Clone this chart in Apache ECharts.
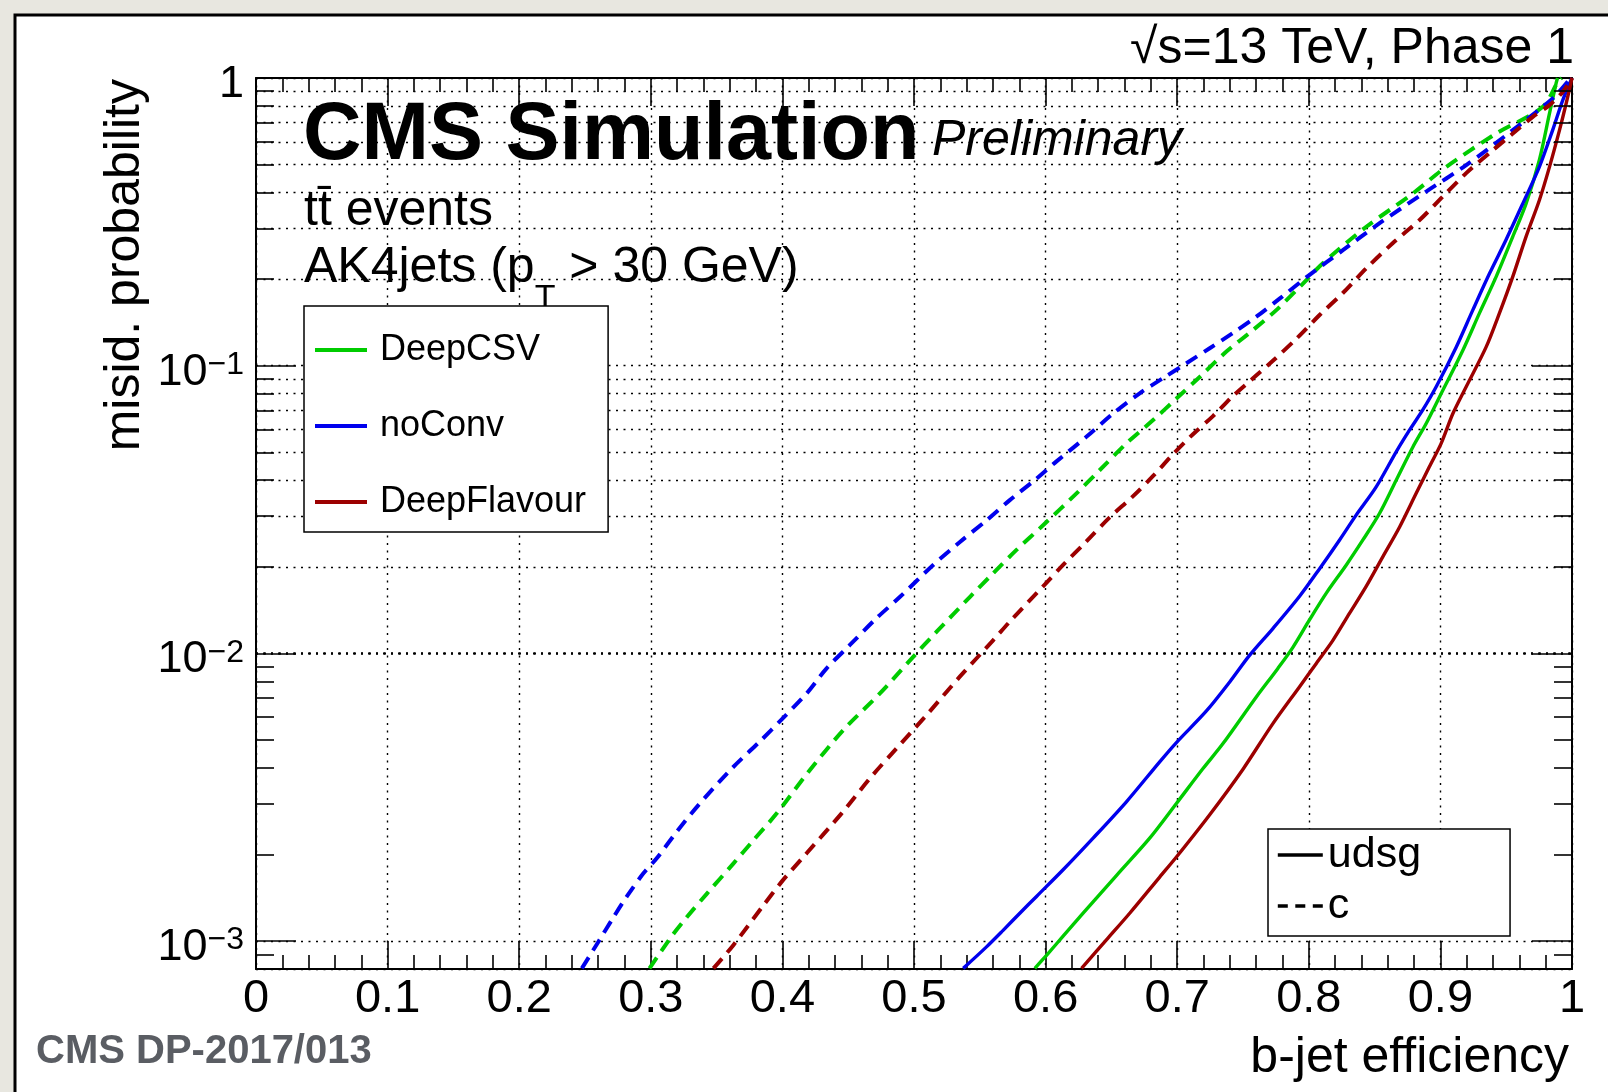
<!DOCTYPE html>
<html><head><meta charset="utf-8">
<script src="https://cdn.jsdelivr.net/npm/echarts@6.0.0/dist/echarts.min.js"></script>
<style>html,body{margin:0;padding:0;background:#e8e7e0}#c{width:1608px;height:1092px}</style>
</head><body><div id="c"></div>
<script>
// ---- data (b-jet efficiency, misid. probability) ----
const deepCsvUdsg = [[0.5918,0.000804],[0.6007,0.000893],[0.6133,0.00104],[0.6285,0.00125],[0.6538,0.00169],[0.6791,0.00228],[0.6994,0.00301],[0.7196,0.00398],[0.7348,0.00486],[0.7601,0.00706],[0.7765,0.00887],[0.7879,0.0105],[0.8006,0.0131],[0.8133,0.0162],[0.8285,0.0203],[0.8411,0.0248],[0.8538,0.0307],[0.8664,0.0400],[0.8791,0.0522],[0.8892,0.0630],[0.8994,0.0780],[0.9170,0.113],[0.9296,0.152],[0.9424,0.204],[0.9550,0.281],[0.9651,0.366],[0.9752,0.519],[0.9829,0.753],[0.9879,0.957],[0.989,1.0]];
const noConvUdsg = [[0.5374,0.000804],[0.5551,0.000955],[0.5677,0.00109],[0.5804,0.00125],[0.5931,0.00143],[0.6133,0.00177],[0.6361,0.00228],[0.6614,0.00305],[0.6867,0.00420],[0.6994,0.00490],[0.7222,0.00631],[0.7399,0.00796],[0.7551,0.00986],[0.7727,0.0122],[0.7930,0.0158],[0.8082,0.0197],[0.8234,0.0248],[0.8361,0.0303],[0.8512,0.0379],[0.8664,0.0502],[0.8765,0.0597],[0.8866,0.0702],[0.8968,0.0845],[0.9120,0.116],[0.9246,0.156],[0.9373,0.209],[0.9499,0.274],[0.9626,0.366],[0.9752,0.491],[0.9853,0.659],[0.9930,0.838],[1.0,1.0]];
const deepFlavUdsg = [[0.6273,0.000804],[0.6462,0.00101],[0.6639,0.00125],[0.6867,0.00167],[0.6994,0.00196],[0.7247,0.00275],[0.7500,0.00396],[0.7727,0.00570],[0.7930,0.00766],[0.8057,0.00923],[0.8183,0.0111],[0.8310,0.0138],[0.8436,0.0171],[0.8563,0.0217],[0.8690,0.0275],[0.8816,0.0360],[0.8917,0.0446],[0.9006,0.0537],[0.9095,0.0682],[0.9196,0.0845],[0.9347,0.116],[0.9448,0.152],[0.9550,0.204],[0.9651,0.281],[0.9752,0.376],[0.9829,0.491],[0.9905,0.659],[0.9956,0.817],[1.0,1.0]];
const deepCsvC = [[0.2990,0.000804],[0.3159,0.00104],[0.3273,0.00121],[0.3425,0.00146],[0.3627,0.00186],[0.3779,0.00224],[0.3957,0.00278],[0.4197,0.00387],[0.4462,0.00541],[0.4741,0.00726],[0.4994,0.00973],[0.5172,0.0119],[0.5424,0.0157],[0.5602,0.0190],[0.5779,0.0229],[0.5981,0.0279],[0.6235,0.0360],[0.6412,0.0434],[0.6614,0.0537],[0.6817,0.0647],[0.6994,0.0769],[0.7171,0.0914],[0.7374,0.112],[0.7576,0.133],[0.7753,0.156],[0.7956,0.193],[0.8107,0.227],[0.8437,0.304],[0.8791,0.397],[0.9044,0.491],[0.9424,0.641],[0.9778,0.794],[0.9892,0.970],[0.992,1.0]];
const noConvC = [[0.2476,0.000804],[0.2602,0.000995],[0.2716,0.00121],[0.2818,0.00143],[0.2944,0.00172],[0.3045,0.00194],[0.3197,0.00240],[0.3362,0.00297],[0.3615,0.00398],[0.383,0.00495],[0.3995,0.00590],[0.4184,0.00726],[0.4336,0.00887],[0.4513,0.0107],[0.4703,0.0131],[0.4892,0.0157],[0.5146,0.0203],[0.5349,0.0244],[0.5551,0.0290],[0.5728,0.0341],[0.5931,0.0405],[0.6083,0.0465],[0.6310,0.0566],[0.6513,0.0682],[0.6715,0.0802],[0.6892,0.0905],[0.7070,0.102],[0.7247,0.115],[0.7424,0.130],[0.7601,0.148],[0.7778,0.171],[0.8006,0.207],[0.8259,0.252],[0.8538,0.313],[0.8892,0.403],[0.9196,0.498],[0.9550,0.659],[0.9853,0.849],[0.998,0.984],[1.0,1.0]];
const deepFlavC = [[0.3476,0.000804],[0.3627,0.000968],[0.3855,0.00133],[0.3995,0.00161],[0.4184,0.00202],[0.4450,0.00278],[0.4665,0.00368],[0.4868,0.00468],[0.5096,0.00611],[0.5348,0.00830],[0.5601,0.0111],[0.5728,0.0129],[0.5981,0.0171],[0.6133,0.0203],[0.6310,0.0245],[0.6487,0.0297],[0.6665,0.0352],[0.6817,0.0414],[0.6968,0.0492],[0.7120,0.0578],[0.7272,0.0668],[0.7424,0.0785],[0.7576,0.0904],[0.7727,0.104],[0.7905,0.124],[0.8082,0.150],[0.8259,0.179],[0.8437,0.218],[0.8639,0.267],[0.8842,0.321],[0.9018,0.387],[0.9196,0.467],[0.9398,0.561],[0.9550,0.641],[0.9702,0.733],[0.9829,0.805],[0.9930,0.895],[1.0,1.0]];

const taggers = ['DeepCSV', 'noConv', 'DeepFlavour'];
const flavours = ['udsg', 'c'];
const xRange = [0, 1];
const xStep = 0.1;
const yRange = [0.0008, 1];
const yMinorTicks = [0.0009,0.002,0.003,0.004,0.005,0.006,0.007,0.008,0.009,0.02,0.03,0.04,0.05,0.06,0.07,0.08,0.09,0.2,0.3,0.4,0.5,0.6,0.7,0.8,0.9];

// ---- styling ----
const FONT = "'Liberation Sans', Arial, Helvetica, sans-serif";
const COLORS = {DeepCSV: '#00cc00', noConv: '#0000ee', DeepFlavour: '#9c0000'};
const DASH = [13, 8];
const GRID = {left: 256, top: 78, right: 36, bottom: 123};
const plotW = 1608 - GRID.left - GRID.right;
const yMinorLen = 18 / plotW * (xRange[1] - xRange[0]);

const chart = echarts.init(document.getElementById('c'), null, {renderer: 'canvas'});

function curve(name, data, dashed) {
  return {
    name, type: 'line', data, symbol: 'none', smooth: 0.3,
    z: 3, clip: true,
    lineStyle: {color: COLORS[name], width: dashed ? 4 : 3.4, type: dashed ? DASH : 'solid', join: 'round'},
    itemStyle: {color: COLORS[name]},
    emphasis: {disabled: true}
  };
}

const dotted = {color: '#000', width: 1.4, type: [2, 5.5]};

const option = {
  animation: false,
  backgroundColor: '#e8e7e0',
  grid: Object.assign({containLabel: false, outerBoundsMode: 'none'}, GRID),
  xAxis: [{
    type: 'value', position: 'bottom', min: xRange[0], max: xRange[1], interval: xStep,
    axisLine: {show: true, onZero: false, lineStyle: {color: '#000', width: 2}},
    axisTick: {show: true, inside: true, length: 28, lineStyle: {color: '#000', width: 1.6}},
    minorTick: {show: true, splitNumber: 5, length: 14, lineStyle: {color: '#000', width: 1.6}},
    splitLine: {show: true, lineStyle: dotted},
    minorSplitLine: {show: false},
    axisLabel: {show: true, margin: 7, color: '#000', fontSize: 47, fontFamily: FONT,
      formatter: v => String(+v.toFixed(1)), showMinLabel: true, showMaxLabel: true}
  }, {
    type: 'value', position: 'top', min: xRange[0], max: xRange[1], interval: xStep,
    axisLine: {show: true, onZero: false, lineStyle: {color: '#000', width: 2}},
    axisTick: {show: true, inside: true, length: 28, lineStyle: {color: '#000', width: 1.6}},
    minorTick: {show: true, splitNumber: 5, length: 14, lineStyle: {color: '#000', width: 1.6}},
    splitLine: {show: false}, axisLabel: {show: false}
  }],
  yAxis: [{
    type: 'log', logBase: 10, position: 'left', min: yRange[0], max: yRange[1],
    axisLine: {show: true, onZero: false, lineStyle: {color: '#000', width: 2}},
    axisTick: {show: true, inside: true, length: 40, lineStyle: {color: '#000', width: 1.6}},
    splitLine: {show: true, lineStyle: dotted},
    axisLabel: {
      show: true, margin: 12, color: '#000', fontFamily: FONT, padding: [13, 0, 0, 0],
      formatter: v => {
        const e = Math.log10(v), r = Math.round(e);
        if (Math.abs(e - r) > 1e-6) return '';
        if (r === 0) return '{b|1}';
        return '{b|10}{s|\u2212' + Math.abs(r) + '}';
      },
      rich: {
        b: {fontSize: 45, lineHeight: 46, fontFamily: FONT, color: '#000'},
        s: {fontSize: 32, lineHeight: 32, fontFamily: FONT, color: '#000', verticalAlign: 'top'}
      }
    }
  }, {
    type: 'log', logBase: 10, position: 'right', min: yRange[0], max: yRange[1],
    axisLine: {show: true, onZero: false, lineStyle: {color: '#000', width: 2}},
    axisTick: {show: true, inside: true, length: 40, lineStyle: {color: '#000', width: 1.6}},
    splitLine: {show: false}, axisLabel: {show: false}
  }],
  legend: [{
    data: taggers, orient: 'vertical', left: 304, top: 306, z: 20,
    icon: 'rect', itemWidth: 52, itemHeight: 4, itemGap: 36,
    padding: [24, 22, 10, 11],
    backgroundColor: '#fff', borderColor: '#000', borderWidth: 1.5, borderRadius: 0,
    textStyle: {fontSize: 36, lineHeight: 40, fontFamily: FONT, color: '#000', padding: [0, 0, 0, 8]}
  }, {
    data: flavours, orient: 'vertical', left: 1268, top: 829, z: 20,
    itemWidth: 45, itemHeight: 14, itemGap: 5,
    padding: [3, 89, 7, 8],
    backgroundColor: '#fff', borderColor: '#000', borderWidth: 1.5, borderRadius: 0,
    itemStyle: {opacity: 0},
    lineStyle: {width: 3.6},
    textStyle: {fontSize: 43, lineHeight: 46, fontFamily: FONT, color: '#000'}
  }],
  series: [
    {
      type: 'line', data: [[0.5, 0.01]], symbol: 'none', z: 1, silent: true,
      lineStyle: {width: 0, opacity: 0},
      markLine: {z: 1, silent: true, symbol: ['none', 'none'], label: {show: false}, animation: false,
        lineStyle: dotted, emphasis: {disabled: true},
        data: yMinorTicks.map(v => ({yAxis: v}))}
    },
    {
      type: 'line', data: [[0.5, 0.01]], symbol: 'none', z: 4, silent: true,
      lineStyle: {width: 0, opacity: 0},
      markLine: {z: 4, silent: true, symbol: ['none', 'none'], label: {show: false}, animation: false,
        lineStyle: {color: '#000', width: 1.6, type: 'solid'}, emphasis: {disabled: true},
        data: yMinorTicks.map(v => [{coord: [xRange[0], v]}, {coord: [xRange[0] + yMinorLen, v]}])
          .concat(yMinorTicks.map(v => [{coord: [xRange[1] - yMinorLen, v]}, {coord: [xRange[1], v]}]))}
    },
    curve('DeepCSV', deepCsvUdsg, false),
    curve('noConv', noConvUdsg, false),
    curve('DeepFlavour', deepFlavUdsg, false),
    curve('DeepCSV', deepCsvC, true),
    curve('noConv', noConvC, true),
    curve('DeepFlavour', deepFlavC, true),
    {name: 'udsg', type: 'line', data: [], symbol: 'none', lineStyle: {color: '#000', width: 3.6, type: 'solid'}, itemStyle: {color: '#000'}},
    {name: 'c', type: 'line', data: [], symbol: 'none', lineStyle: {color: '#000', width: 3.6, type: [10, 7.5]}, itemStyle: {color: '#000'}}
  ],
  graphic: [
    {type: 'rect', z: -100, silent: true, shape: {x: 15, y: 15, width: 1800, height: 1200},
      style: {fill: '#ffffff', stroke: '#000', lineWidth: 3}},
    {type: 'text', z: 10, x: 1574, y: 49,
      style: {text: '\u221As=13 TeV, Phase 1', font: '50px ' + FONT, fill: '#000', align: 'right', verticalAlign: 'middle', textAlign: 'right', textVerticalAlign: 'middle'}},
    {type: 'text', z: 10, x: 303, y: 137,
      style: {text: 'CMS Simulation', font: 'bold 81px ' + FONT, fill: '#000', align: 'left', verticalAlign: 'middle', textAlign: 'left', textVerticalAlign: 'middle'}},
    {type: 'text', z: 10, x: 932, y: 141,
      style: {text: 'Preliminary', font: 'italic 50px ' + FONT, fill: '#000', align: 'left', verticalAlign: 'middle', textAlign: 'left', textVerticalAlign: 'middle'}},
    {type: 'text', z: 10, x: 304, y: 211,
      style: {text: 'tt\u0304 events', font: '50px ' + FONT, fill: '#000', align: 'left', verticalAlign: 'middle', textAlign: 'left', textVerticalAlign: 'middle'}},
    {type: 'text', z: 10, x: 304, y: 243,
      style: {text: '{a|AK4jets (p}{s|T}{a| > 30 GeV)}', fill: '#000', align: 'left', verticalAlign: 'top', textAlign: 'left', textVerticalAlign: 'top',
        rich: {
          a: {fontSize: 50, lineHeight: 50, fontFamily: FONT, fill: '#000', verticalAlign: 'top'},
          s: {fontSize: 34, lineHeight: 34, fontFamily: FONT, fill: '#000', padding: [61, 0, 0, 0]}
        }}},
    {type: 'text', z: 10, x: 125, y: 79, rotation: Math.PI / 2,
      style: {text: 'misid. probability', font: '50px ' + FONT, fill: '#000', align: 'right', verticalAlign: 'middle', textAlign: 'right', textVerticalAlign: 'middle'}},
    {type: 'text', z: 10, x: 1569, y: 1058,
      style: {text: 'b-jet efficiency', font: '50px ' + FONT, fill: '#000', align: 'right', verticalAlign: 'middle', textAlign: 'right', textVerticalAlign: 'middle'}},
    {type: 'text', z: 10, x: 36, y: 1052,
      style: {text: 'CMS DP-2017/013', font: 'bold 40px ' + FONT, fill: '#5a5d63', align: 'left', verticalAlign: 'middle', textAlign: 'left', textVerticalAlign: 'middle'}}
  ]
};
chart.setOption(option);
</script>
</body></html>
